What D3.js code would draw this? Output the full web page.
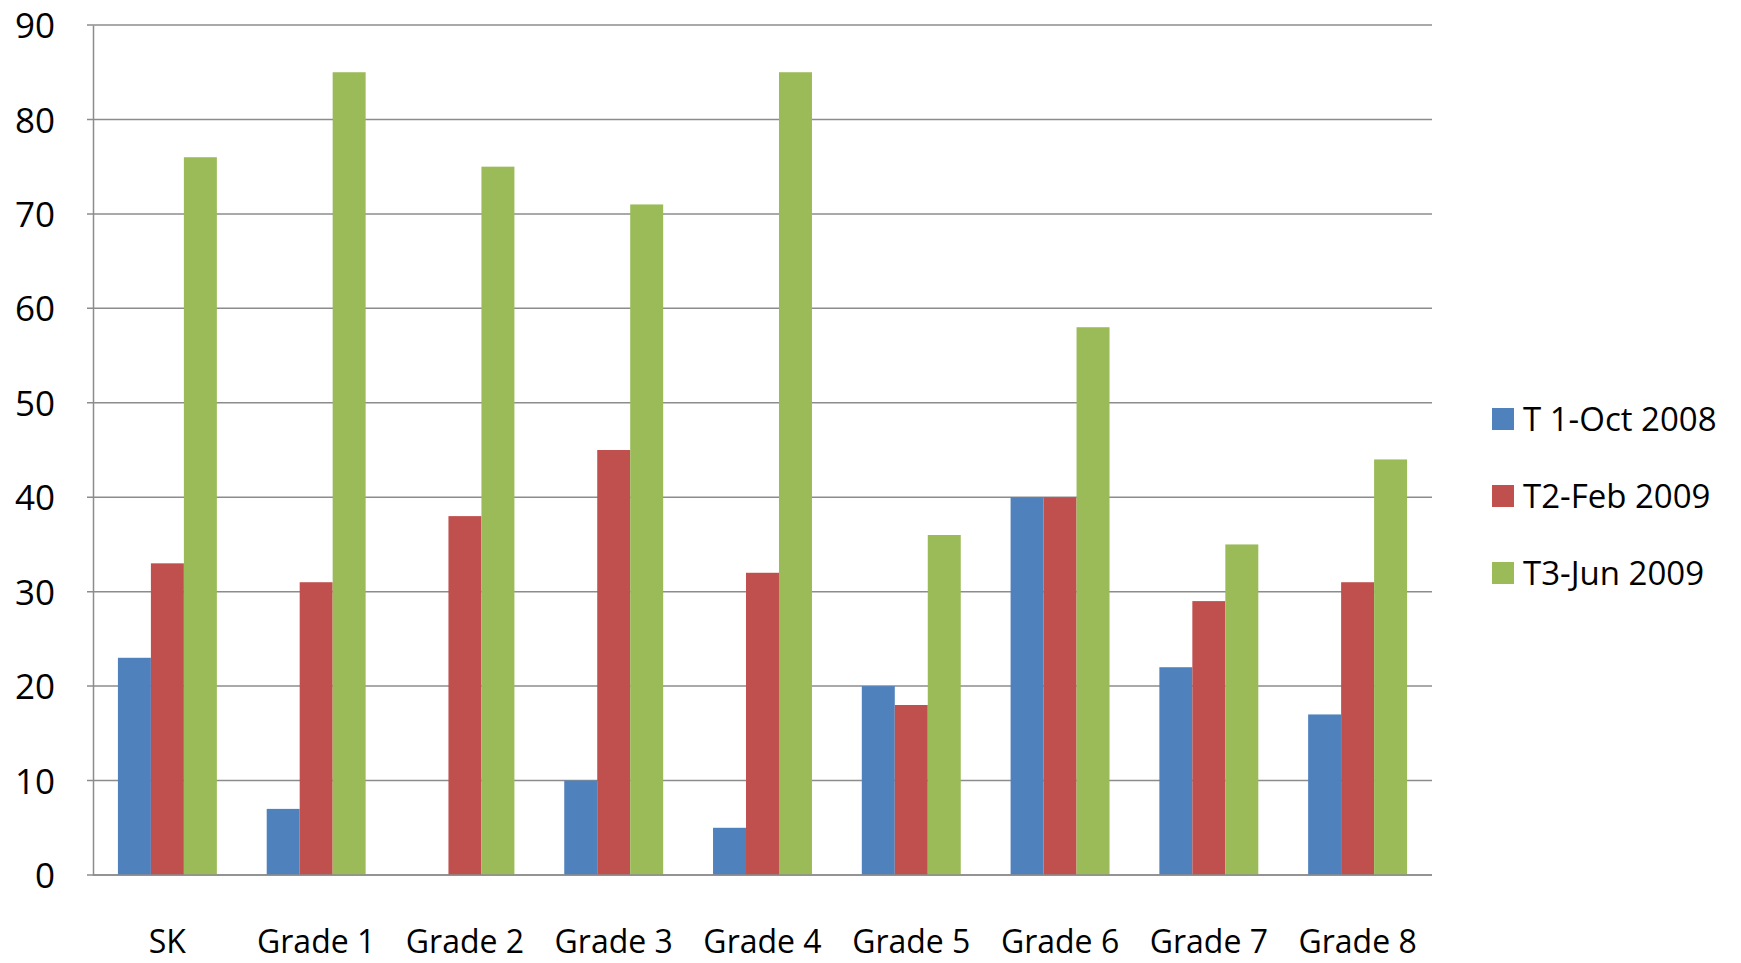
<!DOCTYPE html>
<html>
<head>
<meta charset="utf-8">
<script src="https://cdn.jsdelivr.net/npm/d3@7"></script>
<style>
  body { margin: 0; background: #fff; }
  text { font-family: "Open Sans", "Noto Sans", sans-serif; fill: #000; }
</style>
</head>
<body>
<div id="chart"></div>
<script>
// data
var categories = ["SK", "Grade 1", "Grade 2", "Grade 3", "Grade 4", "Grade 5", "Grade 6", "Grade 7", "Grade 8"];
var seriesNames = ["T 1-Oct 2008", "T2-Feb 2009", "T3-Jun 2009"];
var t1Oct2008 = [23, 7, 0, 10, 5, 20, 40, 22, 17];
var t2Feb2009 = [33, 31, 38, 45, 32, 18, 40, 29, 31];
var t3Jun2009 = [76, 85, 75, 71, 85, 36, 58, 35, 44];
var yTicks = [0, 10, 20, 30, 40, 50, 60, 70, 80, 90];
var colors = ["#4F81BD", "#C0504D", "#9BBB59"];

var series = [t1Oct2008, t2Feb2009, t3Jun2009];

var W = 1741, H = 963;
var margin = { top: 25, right: 309, bottom: 88, left: 93 },
    width = W - margin.left - margin.right,
    height = H - margin.top - margin.bottom;

var svg = d3.select("#chart")
    .append("svg")
    .attr("width", W)
    .attr("height", H)
    .append("g")
    .attr("transform", "translate(" + margin.left + "," + margin.top + ")");

var x = d3.scaleBand()
    .domain(categories)
    .range([0, width])
    .paddingInner(0.335)
    .paddingOuter(0.1675);

var xSub = d3.scaleBand()
    .domain(seriesNames)
    .range([0, x.bandwidth()]);

var y = d3.scaleLinear()
    .domain([0, 90])
    .range([height, 0]);

// gridlines
svg.append("g")
    .selectAll("line")
    .data(yTicks)
    .enter()
    .append("line")
    .attr("x1", -6)
    .attr("x2", width)
    .attr("y1", function (d) { return y(d); })
    .attr("y2", function (d) { return y(d); })
    .attr("stroke", "#8c8c8c")
    .attr("stroke-width", 1.5);

// left axis line + labels
var yAxis = svg.append("g")
    .call(d3.axisLeft(y).tickValues(yTicks).tickSize(0).tickPadding(38));
yAxis.select(".domain").attr("stroke", "#8c8c8c").attr("stroke-width", 1.5);
yAxis.selectAll("text")
    .style("font-size", "35px")
    .attr("dy", "0.36em");

// bars
var groups = svg.selectAll(".grp")
    .data(categories)
    .enter()
    .append("g")
    .attr("transform", function (d) { return "translate(" + x(d) + ",0)"; });

groups.selectAll("rect")
    .data(function (d, i) {
        return series.map(function (s, j) { return { name: seriesNames[j], value: s[i], color: colors[j] }; });
    })
    .enter()
    .append("rect")
    .attr("x", function (d) { return xSub(d.name); })
    .attr("width", xSub.bandwidth())
    .attr("y", function (d) { return y(d.value); })
    .attr("height", function (d) { return height - y(d.value); })
    .attr("fill", function (d) { return d.color; });

// bottom axis line (drawn over bars)
svg.append("line")
    .attr("x1", 0).attr("x2", width)
    .attr("y1", height).attr("y2", height)
    .attr("stroke", "#8c8c8c")
    .attr("stroke-width", 1.5);

// category labels
svg.append("g")
    .selectAll("text")
    .data(categories)
    .enter()
    .append("text")
    .attr("x", function (d) { return x(d) + x.bandwidth() / 2; })
    .attr("y", height + 78)
    .attr("text-anchor", "middle")
    .style("font-size", "32px")
    .text(function (d) { return d; });

// legend
var legend = svg.append("g")
    .attr("transform", "translate(" + (1492 - margin.left) + "," + (408 - margin.top) + ")");

var item = legend.selectAll("g")
    .data(seriesNames)
    .enter()
    .append("g")
    .attr("transform", function (d, i) { return "translate(0," + (i * 77) + ")"; });

item.append("rect")
    .attr("width", 22)
    .attr("height", 22)
    .attr("fill", function (d, i) { return colors[i]; });

item.append("text")
    .attr("x", 31)
    .attr("y", 11)
    .attr("dy", "0.36em")
    .style("font-size", "33px")
    .text(function (d) { return d; });
</script>
</body>
</html>
